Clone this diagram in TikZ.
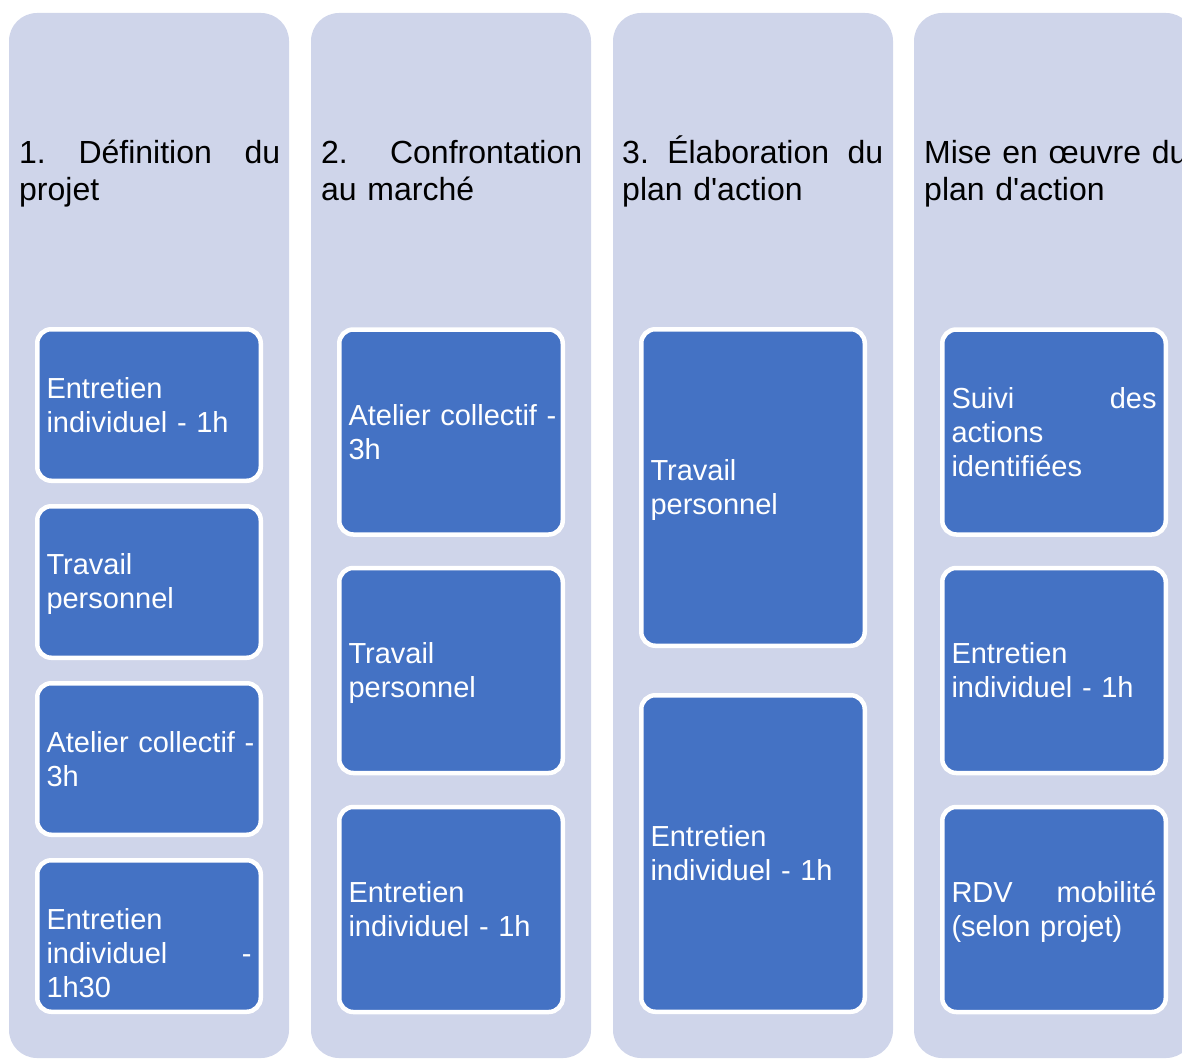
\documentclass[tikz,border=0pt]{standalone}
\usepackage{fontspec}
\setmainfont{Liberation Sans}
\definecolor{lav}{HTML}{CFD5EA}
\definecolor{blu}{HTML}{4472C4}
\newcommand{\bxtop}{\rule{0pt}{26pt}}
\newcommand{\bxbot}{\rule[-6pt]{0pt}{6pt}}
\tikzset{
  colbg/.style={fill=lav, rounded corners=28pt, minimum width=280pt, minimum height=1045pt, inner sep=0pt},
  ttl/.style={anchor=base west, text width=261pt, align=left, inner sep=0pt, text=black, font=\fontsize{32}{37}\selectfont},
  bx/.style={fill=blu, draw=white, line width=4.5pt, rounded corners=14pt, text width=205pt, inner xsep=9.25pt, inner ysep=0pt, align=left, text=white, font=\fontsize{29}{34}\selectfont},
  bxa/.style={bx, minimum height=151.5pt},
  bxb/.style={bx, minimum height=205pt},
  bxc/.style={bx, minimum height=316.5pt},
}
\begin{document}
\begin{tikzpicture}[x=1pt,y=-1pt]
\clip (0,0) rectangle (1182,1059);
% columns
\node[colbg] (c1) at (149,535.5) {};
\node[colbg] (c2) at (451,535.5) {};
\node[colbg] (c3) at (753,535.5) {};
\node[colbg] (c4) at (1054,535.5) {};
% titles
\node[ttl] (t1) at (19,164) {1.\hfill Définition\hfill du\\projet};
\node[ttl] (t2) at (321,164) {2.\hfill Confrontation\\au marché};
\node[ttl] (t3) at (622,164) {3.\hfill Élaboration\hfill du\\plan d\textquotesingle action};
\node[ttl] (t4) at (924,164) {\mbox{Mise en œuvre du}\\plan d\textquotesingle action};
% column 1
\node[bxa] (a1) at (149,405) {\bxtop Entretien\\individuel - 1h\bxbot};
\node[bxa] (a2) at (149,582) {\bxtop Travail\\personnel\bxbot};
\node[bxa] (a3) at (149,759) {\bxtop\mbox{Atelier collectif -}\\3h\bxbot};
\node[bxa] (a4) at (149,936) {\bxtop\\Entretien\\individuel\hfill -\\1h30\bxbot};
% column 2
\node[bxb] (b1) at (451,432) {\bxtop\mbox{Atelier collectif -}\\3h\bxbot};
\node[bxb] (b2) at (451,670.5) {\bxtop Travail\\personnel\bxbot};
\node[bxb] (b3) at (451,909.5) {\bxtop Entretien\\individuel - 1h\bxbot};
% column 3
\node[bxc] (d1) at (753,487.5) {\bxtop Travail\\personnel\bxbot};
\node[bxc] (d2) at (753,853.5) {\bxtop Entretien\\individuel - 1h\bxbot};
% column 4
\node[bxb] (e1) at (1054,432) {\bxtop Suivi\hfill des\\actions\\identifiées\bxbot};
\node[bxb] (e2) at (1054,670.5) {\bxtop Entretien\\individuel - 1h\bxbot};
\node[bxb] (e3) at (1054,909.5) {\bxtop RDV\hfill mobilité\\(selon projet)\bxbot};
\end{tikzpicture}
\end{document}
